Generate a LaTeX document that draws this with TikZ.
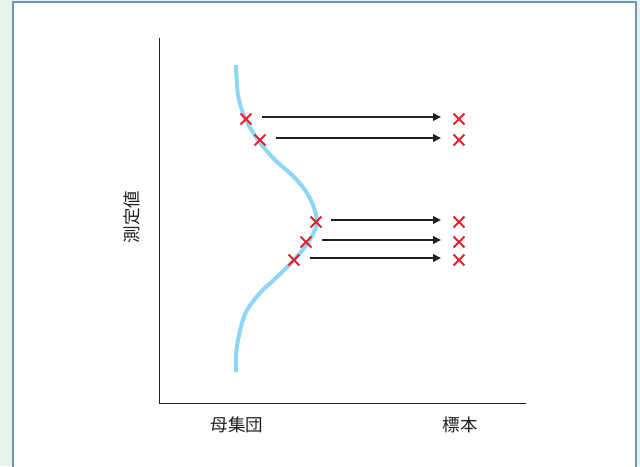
\documentclass[tikz,border=0pt]{standalone}
\usepackage{fontspec}
\setmainfont{Noto Sans CJK JP}
\usetikzlibrary{shapes.misc,arrows.meta}
\definecolor{outerbg}{HTML}{E6F3EB}
\definecolor{framecol}{HTML}{7096B6}
\definecolor{curvecol}{HTML}{8ED6F6}
\definecolor{crosscol}{HTML}{E8202A}
\definecolor{arrowcol}{HTML}{231F20}
\tikzset{
  xmark/.style={draw=crosscol, cross out, line width=1.8pt, minimum size=9pt, inner sep=0pt},
  sarrow/.style={draw=arrowcol, line width=2.2pt, -{Triangle[length=8pt,width=7.5pt]}},
  axis/.style={draw=arrowcol, line width=1pt},
  lbl/.style={font=\fontsize{17.5pt}{17.5pt}\selectfont, text=arrowcol, inner sep=0pt}
}
\begin{document}
\begin{tikzpicture}[x=1pt,y=-1pt]
\useasboundingbox (0,0) rectangle (640,466);
\fill[outerbg] (0,0) rectangle (640,466);
\filldraw[fill=white, draw=framecol, line width=2pt] (13,2) rectangle (636,480);
% axes
\coordinate (top) at (159,38);
\coordinate (origin) at (159,403);
\coordinate (right) at (526,403);
\draw[axis] (top) -- (origin) -- (right);
% curve
\draw[curvecol, line width=4pt] plot[smooth, tension=0.55] coordinates {
 (236,65) (238,95) (245,118) (258,140) (275,160) (292,175) (305,190) (313,205) (317,222)
 (312,236) (304,248) (294,260) (278,276) (260,293) (246,312) (239,335) (236,355) (236,372)};
% crosses
\node[xmark] (L1) at (246,119) {};
\node[xmark] (L2) at (260,140) {};
\node[xmark] (L3) at (316,222) {};
\node[xmark] (L4) at (306,242) {};
\node[xmark] (L5) at (294,260) {};
\node[xmark] (R1) at (459,119) {};
\node[xmark] (R2) at (459,140) {};
\node[xmark] (R3) at (459,222) {};
\node[xmark] (R4) at (459,242) {};
\node[xmark] (R5) at (459,260) {};
% arrows
\coordinate (s1) at (262,117); \coordinate (e1) at (441,117);
\coordinate (s2) at (276,138); \coordinate (e2) at (441,138);
\coordinate (s3) at (331,220); \coordinate (e3) at (441,220);
\coordinate (s4) at (322,240); \coordinate (e4) at (441,240);
\coordinate (s5) at (310,258); \coordinate (e5) at (441,258);
\draw[sarrow] (s1) -- (e1);
\draw[sarrow] (s2) -- (e2);
\draw[sarrow] (s3) -- (e3);
\draw[sarrow] (s4) -- (e4);
\draw[sarrow] (s5) -- (e5);
% labels
\node[lbl] (pop) at (237,425) {母集団};
\node[lbl] (smp) at (460,425) {標本};
\node[lbl, rotate=90] (meas) at (132,217) {測定値};
\end{tikzpicture}
\end{document}
